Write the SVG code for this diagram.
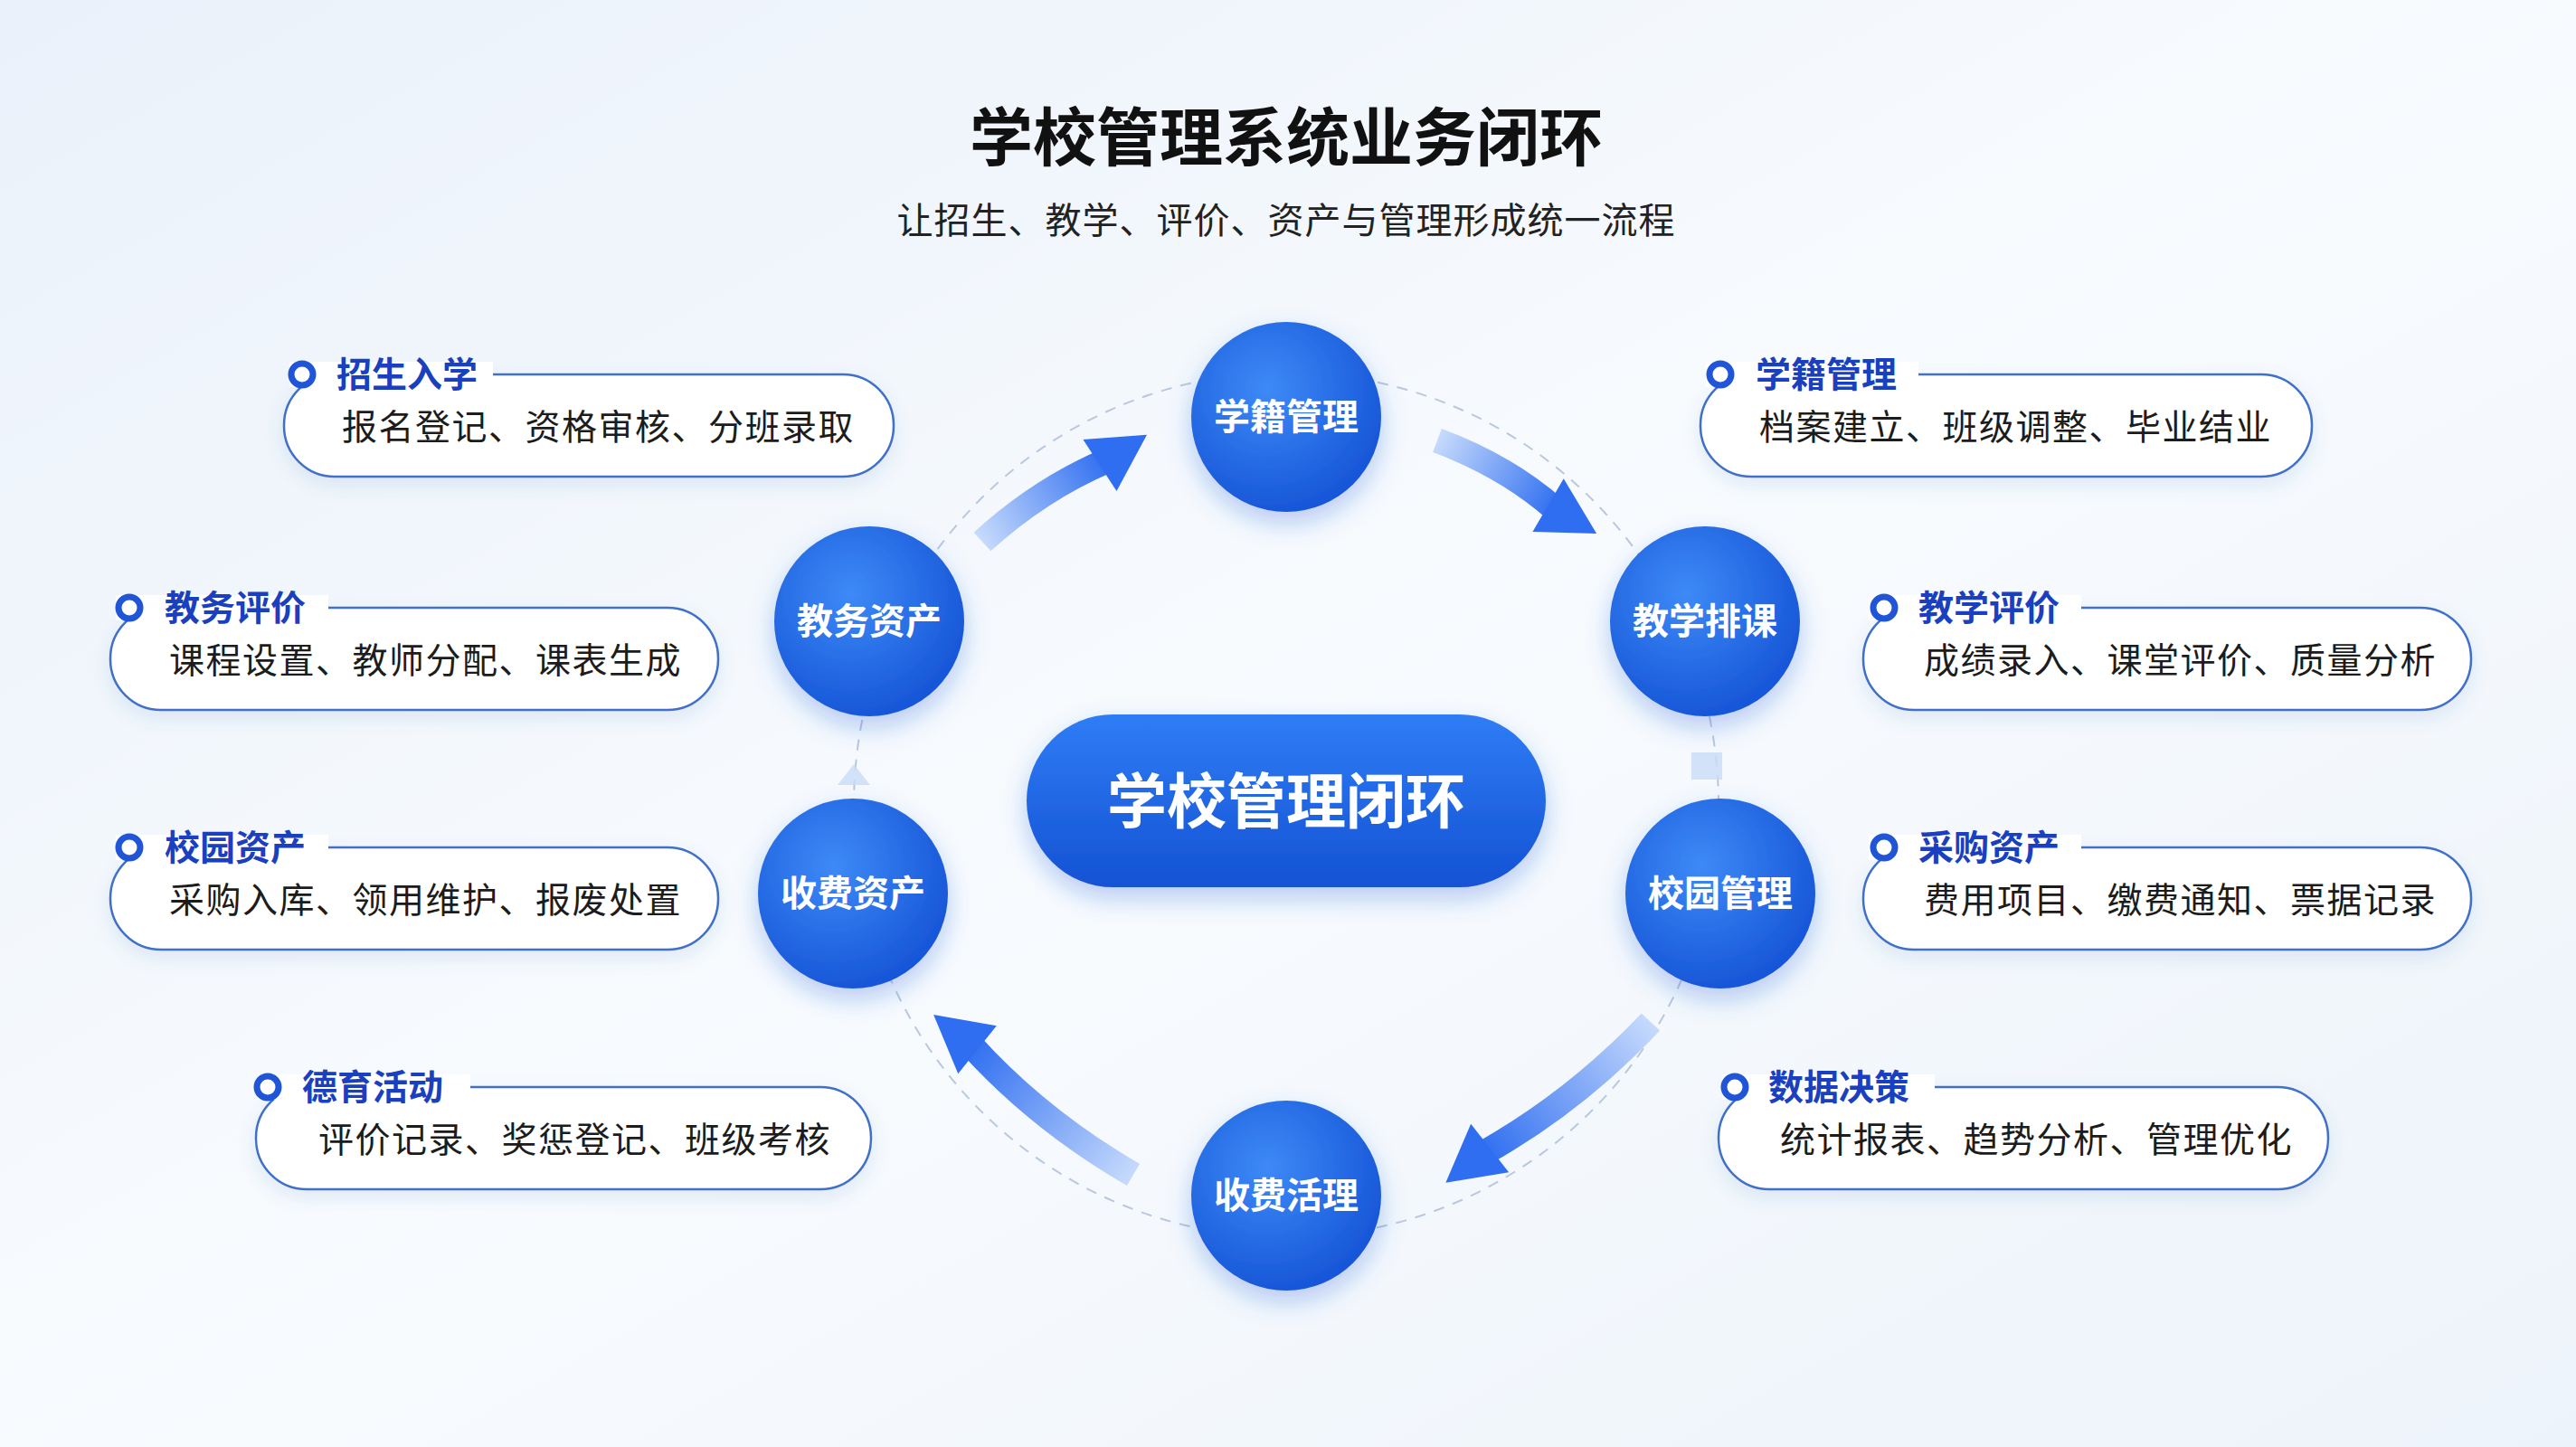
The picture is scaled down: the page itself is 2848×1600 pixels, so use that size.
<svg xmlns="http://www.w3.org/2000/svg" width="2848" height="1600" viewBox="0 0 2848 1600">
<defs>
<linearGradient id="bg" x1="0" y1="0" x2="1" y2="1"><stop offset="0" stop-color="#eaf1fa"/><stop offset="0.5" stop-color="#f8fbfe"/><stop offset="1" stop-color="#edf3fa"/></linearGradient>
<radialGradient id="cg" cx="0.4" cy="0.35" r="0.7"><stop offset="0" stop-color="#3d8af7"/><stop offset="1" stop-color="#1553d6"/></radialGradient>
<linearGradient id="pg" x1="0" y1="0" x2="0" y2="1"><stop offset="0" stop-color="#2f7df5"/><stop offset="1" stop-color="#1452d4"/></linearGradient>
<linearGradient id="ag" x1="0" y1="0" x2="1" y2="0"><stop offset="0" stop-color="#c6dafc"/><stop offset="1" stop-color="#2f6ef0"/></linearGradient>
<filter id="sh" x="-30%" y="-30%" width="160%" height="170%"><feDropShadow dx="0" dy="12" stdDeviation="14" flood-color="#1d5ad8" flood-opacity="0.3"/></filter>
<filter id="bs" x="-10%" y="-30%" width="120%" height="170%"><feDropShadow dx="0" dy="8" stdDeviation="10" flood-color="#3a66b0" flood-opacity="0.12"/></filter>
</defs>
<style>
text{font-family:"Noto Sans CJK SC","Noto Sans",sans-serif}
.title{font-size:70px;font-weight:700;fill:#111}
.sub{font-size:40px;fill:#222;letter-spacing:1px}
.ct{font-size:40px;font-weight:700;fill:#fff}
.box{fill:#fff;stroke:#3f6fc9;stroke-width:2.5}
.bt{font-size:39px;font-weight:700;fill:#1a3fbf}
.bd{font-size:39px;fill:#1c1c1c;letter-spacing:1.5px}
.dot{fill:#fff;stroke:#1f55d6;stroke-width:7}
.shaft{fill:none;stroke:url(#ag);stroke-width:28;stroke-linecap:butt}
.head{fill:#2f6ef0}
</style>
<rect width="2848" height="1600" fill="url(#bg)"/>
<text class="title" x="1422" y="178" text-anchor="middle">学校管理系统业务闭环</text>
<text class="sub" x="1422" y="258" text-anchor="middle">让招生、教学、评价、资产与管理形成统一流程</text>
<circle cx="1422" cy="890" r="478" fill="none" stroke="#b9c8de" stroke-width="2" stroke-dasharray="12 10"/>
<g id="connectors">
<g transform="translate(1086,599) rotate(-33)"><path class="shaft" d="M0,0 Q85,-14 165,0"/><polygon class="head" points="155,-34 217,0 155,34"/></g>
<g transform="translate(1589,487) rotate(30.3)"><path class="shaft" d="M0,0 Q80,-14 152,0"/><polygon class="head" points="142,-34 204,0 142,34"/></g>
<g transform="translate(1825,1130) rotate(141.9)"><path class="shaft" d="M0,0 Q120,-18 236,0"/><polygon class="head" points="226,-34 288,0 226,34"/></g>
<g transform="translate(1253,1299) rotate(-141.3)"><path class="shaft" d="M0,0 Q120,-18 231,0"/><polygon class="head" points="221,-34 283,0 221,34"/></g>
<rect x="1870" y="832" width="34" height="30" fill="#c9dcf8" opacity="0.8"/>
<polygon points="944,845 926,868 962,868" fill="#c9dcf8" opacity="0.8"/>
</g>
<g id="center"><rect x="1135" y="790" width="574" height="191" rx="95.5" fill="url(#pg)" filter="url(#sh)"/><text x="1422" y="910" text-anchor="middle" font-size="66" font-weight="700" fill="#fff">学校管理闭环</text></g>
<g id="n1"><circle cx="1422" cy="461" r="105" fill="url(#cg)" filter="url(#sh)"/><text class="ct" x="1422" y="475" text-anchor="middle">学籍管理</text></g>
<g id="n2"><circle cx="1885" cy="687" r="105" fill="url(#cg)" filter="url(#sh)"/><text class="ct" x="1885" y="701" text-anchor="middle">教学排课</text></g>
<g id="n3"><circle cx="1902" cy="988" r="105" fill="url(#cg)" filter="url(#sh)"/><text class="ct" x="1902" y="1002" text-anchor="middle">校园管理</text></g>
<g id="n4"><circle cx="1422" cy="1322" r="105" fill="url(#cg)" filter="url(#sh)"/><text class="ct" x="1422" y="1336" text-anchor="middle">收费活理</text></g>
<g id="n5"><circle cx="943" cy="988" r="105" fill="url(#cg)" filter="url(#sh)"/><text class="ct" x="943" y="1002" text-anchor="middle">收费资产</text></g>
<g id="n6"><circle cx="961" cy="687" r="105" fill="url(#cg)" filter="url(#sh)"/><text class="ct" x="961" y="701" text-anchor="middle">教务资产</text></g>

<g id="b1"><rect class="box" x="314" y="414" width="674" height="113" rx="56" filter="url(#bs)"/><rect x="320" y="400" width="225" height="28" fill="#fff"/><circle class="dot" cx="334" cy="414" r="12"/><text class="bt" x="372" y="428">招生入学</text><text class="bd" x="378" y="486">报名登记、资格审核、分班录取</text></g>
<g id="b2"><rect class="box" x="122" y="672" width="672" height="113" rx="56" filter="url(#bs)"/><rect x="128" y="658" width="235" height="28" fill="#fff"/><circle class="dot" cx="143" cy="672" r="12"/><text class="bt" x="182" y="686">教务评价</text><text class="bd" x="187" y="744">课程设置、教师分配、课表生成</text></g>
<g id="b3"><rect class="box" x="122" y="937" width="672" height="113" rx="56" filter="url(#bs)"/><rect x="128" y="923" width="235" height="28" fill="#fff"/><circle class="dot" cx="143" cy="937" r="12"/><text class="bt" x="182" y="951">校园资产</text><text class="bd" x="187" y="1009">采购入库、领用维护、报废处置</text></g>
<g id="b4"><rect class="box" x="283" y="1202" width="680" height="113" rx="56" filter="url(#bs)"/><rect x="285" y="1188" width="235" height="28" fill="#fff"/><circle class="dot" cx="296" cy="1202" r="12"/><text class="bt" x="334" y="1216">德育活动</text><text class="bd" x="352" y="1274">评价记录、奖惩登记、班级考核</text></g>
<g id="b5"><rect class="box" x="1880" y="414" width="676" height="113" rx="56" filter="url(#bs)"/><rect x="1886" y="400" width="235" height="28" fill="#fff"/><circle class="dot" cx="1902" cy="414" r="12"/><text class="bt" x="1941" y="428">学籍管理</text><text class="bd" x="1945" y="486">档案建立、班级调整、毕业结业</text></g>
<g id="b6"><rect class="box" x="2060" y="672" width="672" height="113" rx="56" filter="url(#bs)"/><rect x="2066" y="658" width="235" height="28" fill="#fff"/><circle class="dot" cx="2083" cy="672" r="12"/><text class="bt" x="2121" y="686">教学评价</text><text class="bd" x="2127" y="744">成绩录入、课堂评价、质量分析</text></g>
<g id="b7"><rect class="box" x="2060" y="937" width="672" height="113" rx="56" filter="url(#bs)"/><rect x="2066" y="923" width="235" height="28" fill="#fff"/><circle class="dot" cx="2083" cy="937" r="12"/><text class="bt" x="2121" y="951">采购资产</text><text class="bd" x="2127" y="1009">费用项目、缴费通知、票据记录</text></g>
<g id="b8"><rect class="box" x="1900" y="1202" width="674" height="113" rx="56" filter="url(#bs)"/><rect x="1904" y="1188" width="235" height="28" fill="#fff"/><circle class="dot" cx="1918" cy="1202" r="12"/><text class="bt" x="1955" y="1216">数据决策</text><text class="bd" x="1968" y="1274">统计报表、趋势分析、管理优化</text></g>
</svg>
